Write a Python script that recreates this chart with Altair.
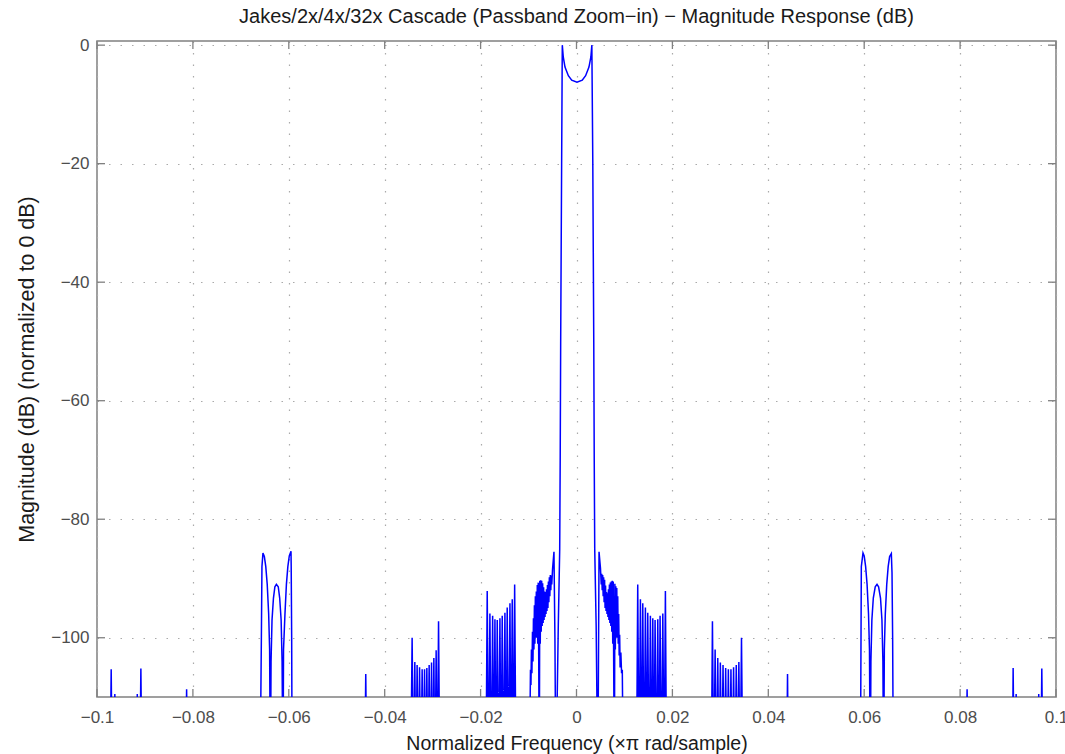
import altair as alt
import pandas as pd

# ---------------- data (frequency in x pi rad/sample, magnitude in dB) ----------------
far_left_f = [-0.1000, -0.0973, -0.09704, -0.0968, -0.0964, -0.09628, -0.0961,
              -0.0917, -0.0916, -0.0915, -0.0911, -0.09085, -0.0906,
              -0.0816, -0.08131, -0.0811]
far_left_m = [-125, -125, -105.3, -125, -125, -109.5, -125,
              -125, -109.5, -125, -125, -105.2, -125,
              -125, -108.7, -125]

lobes_left_f = [-0.0660, -0.06572, -0.0656, -0.06539, -0.0651, -0.0648, -0.0645, -0.0642, -0.0640, -0.06384,
                -0.0637, -0.0635, -0.0632, -0.0629, -0.06259, -0.0622, -0.0619, -0.0616, -0.0614, -0.06121,
                -0.0611, -0.0608, -0.0605, -0.0602, -0.0599, -0.05954, -0.0595, -0.0594, -0.0593]
lobes_left_m = [-125, -100, -88, -85.7, -86.3, -88, -91, -96, -102, -125,
                -104, -97, -93.3, -91.4, -91.0, -91.4, -93.3, -97, -104, -125,
                -102, -96, -91, -88, -86.2, -85.4, -88, -100, -125]

spike44_left_f = [-0.0442, -0.04395, -0.0437]
spike44_left_m = [-125, -106.1, -125]

comb31_left_f = [-0.0346, -0.03428, -0.0340, -0.03372, -0.03348, -0.03324, -0.03298, -0.03273, -0.03246,
                 -0.03219, -0.03194, -0.03169, -0.03145, -0.03121, -0.03097, -0.03073, -0.03048, -0.03023,
                 -0.02999, -0.02975, -0.02951, -0.02927, -0.02902, -0.02877, -0.0285]
comb31_left_m = [-125, -100, -125, -104.1, -125, -104.6, -125, -105.0, -125,
                 -105.3, -125, -105.3, -125, -105.1, -125, -104.6, -125, -104.2,
                 -125, -103.4, -125, -102.1, -125, -97.2, -125]

comb15_left_f = [-0.0189, -0.01862, -0.01834, -0.01806, -0.01778, -0.01749, -0.01725, -0.01701, -0.01677,
                 -0.01653, -0.01625, -0.01597, -0.01573, -0.01549, -0.01521, -0.01493, -0.01469, -0.01445,
                 -0.01417, -0.01388, -0.01364, -0.01340, -0.01315, -0.01290, -0.0126]
comb15_left_m = [-125, -92.1, -125, -95.9, -125, -96.3, -125, -96.9, -125,
                 -97.0, -125, -96.7, -125, -96.3, -125, -95.8, -125, -94.9,
                 -125, -94.2, -125, -93.5, -125, -91.0, -125]

blob_left_f = [-0.00985, -0.00960, -0.00950, -0.00940, -0.00930, -0.00918, -0.00908, -0.00898, -0.00888,
               -0.00878, -0.00868, -0.00858, -0.00848, -0.00838, -0.00828, -0.00818, -0.00808, -0.00798,
               -0.00788, -0.00776, -0.00766, -0.00756, -0.00746, -0.00736, -0.00726, -0.00716, -0.00706,
               -0.00696, -0.00686, -0.00676, -0.00666, -0.00656, -0.00646, -0.00636, -0.00626, -0.00616,
               -0.00606, -0.00596, -0.00586, -0.00576, -0.00566, -0.00556, -0.00546, -0.00536, -0.00526,
               -0.00516, -0.00500, -0.00470, -0.00450, -0.00430]
blob_left_m = [-125, -105.4, -108, -102, -106, -99, -104, -96.7, -102,
               -94.5, -101, -93, -100, -92.2, -100, -91.1, -101, -90.7,
               -103, -125, -90.4, -101, -90.3, -99, -90.4, -98, -90.8,
               -97.5, -91.5, -97, -92.2, -96.5, -92.3, -96, -91.8, -95.5,
               -91.1, -95, -90.5, -94, -89.8, -93, -89.4, -92, -89.5,
               -91, -88.5, -85.5, -100, -125]

main_lobe_f = [-0.0038, -0.0035, -0.0034, -0.0033, -0.0032, -0.0031, -0.0030, -0.00296,
               -0.00276, -0.0024, -0.0017, -0.0010, 0.0001, 0.0012, 0.0019, 0.0026, 0.0030,
               0.0032, 0.00325, 0.0034, 0.0035, 0.0036, 0.0037, 0.0038, 0.0041, 0.00445]
main_lobe_m = [-98, -85, -70, -50, -35, -20, -5, 0,
               -2.0, -3.7, -5.15, -5.9, -6.27, -5.9, -5.15, -3.7, -2.0,
               0, -5, -20, -35, -50, -70, -85, -98, -125]

blob_right_f = [0.00470, 0.00500, 0.00516, 0.00526, 0.00536, 0.00546, 0.00556, 0.00566, 0.00576,
                0.00586, 0.00596, 0.00606, 0.00616, 0.00626, 0.00636, 0.00646, 0.00656, 0.00666,
                0.00676, 0.00686, 0.00696, 0.00706, 0.00716, 0.00726, 0.00736, 0.00746, 0.00756,
                0.00766, 0.00790, 0.00800, 0.00810, 0.00820, 0.00830, 0.00840, 0.00850, 0.00860,
                0.00870, 0.00880, 0.00890, 0.00900, 0.00910, 0.00925, 0.00940, 0.00955, 0.00977]
blob_right_m = [-85.5, -88.3, -91, -89.2, -92, -89.4, -93, -89.8, -94,
                -90.2, -95, -91.2, -95.5, -92.3, -96, -92.5, -96.5, -91.8,
                -97, -91.0, -97.5, -90.7, -98, -90.5, -99, -90.4, -101,
                -90.5, -125, -90.9, -102, -91.3, -100, -91.6, -100, -93,
                -101, -96, -103, -99.5, -105, -102.5, -106, -105.4, -125]

comb15_right_f = [0.0125, 0.01277, 0.01305, 0.01333, 0.01358, 0.01382, 0.01410, 0.01437, 0.01462,
                  0.01486, 0.01514, 0.01541, 0.01566, 0.01591, 0.01615, 0.01639, 0.01667, 0.01695,
                  0.01719, 0.01743, 0.01772, 0.01800, 0.01827, 0.01854, 0.0188]
comb15_right_m = [-125, -91.0, -125, -93.5, -125, -94.2, -125, -94.9, -125,
                  -95.8, -125, -96.3, -125, -96.7, -125, -97.0, -125, -96.9,
                  -125, -96.3, -125, -95.9, -125, -92.1, -125]

comb31_right_f = [0.0281, 0.02835, 0.02863, 0.02891, 0.02918, 0.02946, 0.02973, 0.03000, 0.03028,
                  0.03056, 0.03083, 0.03111, 0.03139, 0.03167, 0.03194, 0.03221, 0.03248, 0.03276,
                  0.03304, 0.03332, 0.03359, 0.03386, 0.03413, 0.03441, 0.0347]
comb31_right_m = [-125, -97.2, -125, -102.0, -125, -103.4, -125, -104.2, -125,
                  -104.6, -125, -105.1, -125, -105.3, -125, -105.3, -125, -105.0,
                  -125, -104.6, -125, -104.1, -125, -100.0, -125]

spike44_right_f = [0.0438, 0.04401, 0.0442]
spike44_right_m = [-125, -106.1, -125]

lobes_right_f = [0.0592, 0.05940, 0.05975, 0.0600, 0.0603, 0.0606, 0.0609, 0.0611, 0.06127,
                 0.0614, 0.0616, 0.0619, 0.0623, 0.06267, 0.0630, 0.0634, 0.0637, 0.0639, 0.06405,
                 0.0642, 0.0644, 0.0647, 0.0650, 0.0653, 0.06566, 0.0658, 0.06593, 0.0661]
lobes_right_m = [-125, -88, -85.7, -86.2, -88, -91, -96, -102, -125,
                 -104, -97, -93.3, -91.4, -91.0, -91.4, -93.3, -97, -104, -125,
                 -102, -96, -91, -88, -86.3, -85.8, -89, -100, -125]

far_right_f = [0.0812, 0.08146, 0.0817, 0.0909, 0.09106, 0.0913, 0.09155, 0.09169, 0.0918,
               0.0963, 0.0964, 0.0965, 0.0968, 0.09704, 0.0973, 0.1000]
far_right_m = [-125, -108.7, -125, -125, -105.1, -125, -125, -109.5, -125,
               -125, -109.5, -125, -125, -105.2, -125, -125]

segments = [
    (far_left_f, far_left_m), (lobes_left_f, lobes_left_m), (spike44_left_f, spike44_left_m),
    (comb31_left_f, comb31_left_m), (comb15_left_f, comb15_left_m), (blob_left_f, blob_left_m),
    (main_lobe_f, main_lobe_m), (blob_right_f, blob_right_m), (comb15_right_f, comb15_right_m),
    (comb31_right_f, comb31_right_m), (spike44_right_f, spike44_right_m),
    (lobes_right_f, lobes_right_m), (far_right_f, far_right_m),
]
freq, mag = [], []
for f, m in segments:
    freq += f
    mag += m
df = pd.DataFrame({"f": freq, "m": mag, "i": list(range(len(freq)))})

x_ticks = [-0.1, -0.08, -0.06, -0.04, -0.02, 0, 0.02, 0.04, 0.06, 0.08, 0.1]
y_ticks = [-100, -80, -60, -40, -20, 0]
x_domain = [-0.1, 0.1]
y_domain = [-110, 0.7]

# ---------------- styling ----------------
W, H = 959, 656
FONT = "Liberation Sans"
AXIS_GREY = "#808080"
TICK_LEN = 8

x_scale = alt.Scale(domain=x_domain, nice=False, zero=False)
y_scale = alt.Scale(domain=y_domain, nice=False, zero=False)

line = alt.Chart(df).mark_line(color="#0000ff", strokeWidth=1.5, clip=True).encode(
    x=alt.X("f:Q", scale=x_scale,
            axis=alt.Axis(values=x_ticks, format="~g", title="Normalized Frequency (×π rad/sample)",
                          titlePadding=9, titleFontSize=19.5, labelPadding=12, labelFlush=False)),
    y=alt.Y("m:Q", scale=y_scale,
            axis=alt.Axis(values=y_ticks, format="~g", title="Magnitude (dB) (normalized to 0 dB)",
                          titlePadding=12, titleFontSize=21.5, labelPadding=8, labelFlush=False)),
    order="i:Q",
)

xt = pd.DataFrame({"f": x_ticks})
yt = pd.DataFrame({"m": y_ticks})

bottom_ticks = alt.Chart(xt).mark_rule(color=AXIS_GREY, strokeWidth=1.3).encode(
    x=alt.X("f:Q", scale=x_scale), y=alt.value(H), y2=alt.value(H - TICK_LEN))
top_ticks = alt.Chart(xt).mark_rule(color=AXIS_GREY, strokeWidth=1.3).encode(
    x=alt.X("f:Q", scale=x_scale), y=alt.value(0), y2=alt.value(TICK_LEN))
left_ticks = alt.Chart(yt).mark_rule(color=AXIS_GREY, strokeWidth=1.3).encode(
    y=alt.Y("m:Q", scale=y_scale), x=alt.value(0), x2=alt.value(TICK_LEN))
right_ticks = alt.Chart(yt).mark_rule(color=AXIS_GREY, strokeWidth=1.3).encode(
    y=alt.Y("m:Q", scale=y_scale), x=alt.value(W), x2=alt.value(W - TICK_LEN))

chart = alt.layer(line, bottom_ticks, top_ticks, left_ticks, right_ticks).properties(
    width=W, height=H,
    title=alt.TitleParams(
        "Jakes/2x/4x/32x Cascade (Passband Zoom\u2212in) \u2212 Magnitude Response (dB)",
        font=FONT, fontSize=20, fontWeight="normal", color="#1a1a1a", anchor="middle", offset=9),
    autosize=alt.AutoSizeParams(type="none"),
    padding={"left": 97, "top": 41, "right": 9, "bottom": 57},
    background="white",
).configure_view(
    stroke=AXIS_GREY, strokeWidth=1.5
).configure_axis(
    domain=False, ticks=False,
    grid=True, gridColor="#aaaaaa", gridDash=[1.5, 10], gridWidth=1.2,
    labelFont=FONT, labelFontSize=17, labelColor="#4d4d4d",
    titleFont=FONT, titleFontWeight="normal", titleColor="#1a1a1a",
)

chart.save("out.html", embed_options={"renderer": "svg", "actions": False})
